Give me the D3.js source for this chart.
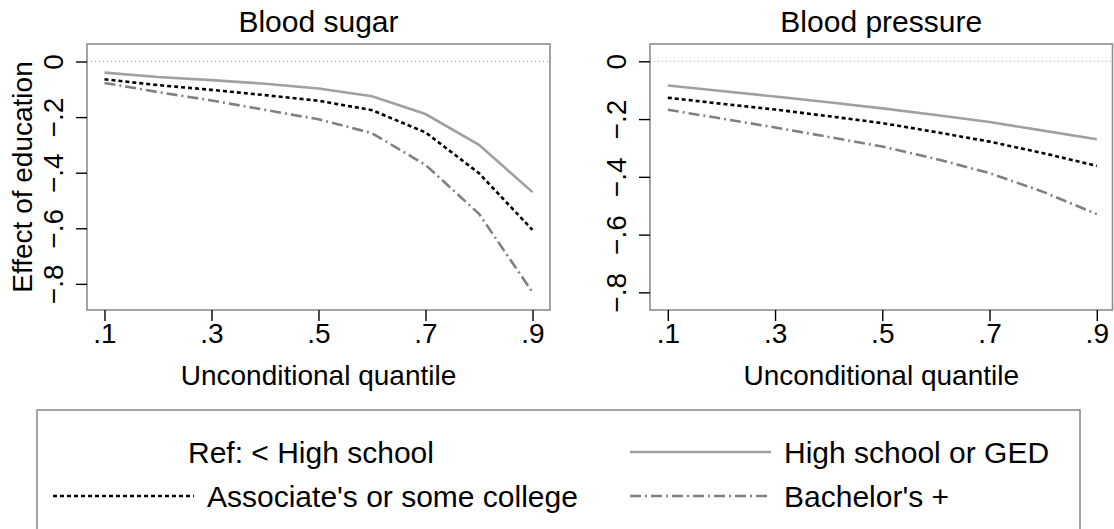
<!DOCTYPE html>
<html>
<head>
<meta charset="utf-8">
<script src="https://cdn.jsdelivr.net/npm/d3@7"></script>
<style>
  html, body { margin: 0; padding: 0; background: #fff; }
  svg { display: block; font-family: "Liberation Sans", Arial, Helvetica, sans-serif; }
</style>
</head>
<body>
<svg id="chart" width="1114" height="529"></svg>
<script>
// Unconditional quantiles at which the effects were estimated
const quantiles = [0.1, 0.2, 0.3, 0.4, 0.5, 0.6, 0.7, 0.8, 0.9];
const xTicks = [0.1, 0.3, 0.5, 0.7, 0.9];
const yTicks = [0, -0.2, -0.4, -0.6, -0.8];

// Blood sugar: effect of education relative to < High school
const sugarHighSchool = [-0.040, -0.056, -0.067, -0.080, -0.097, -0.125, -0.189, -0.300, -0.470];
const sugarAssociate  = [-0.064, -0.085, -0.102, -0.121, -0.141, -0.175, -0.255, -0.402, -0.606];
const sugarBachelor   = [-0.077, -0.110, -0.140, -0.174, -0.208, -0.258, -0.372, -0.548, -0.830];

// Blood pressure: effect of education relative to < High school
const bpHighSchool = [-0.084, -0.103, -0.122, -0.142, -0.163, -0.186, -0.210, -0.240, -0.270];
const bpAssociate  = [-0.126, -0.147, -0.167, -0.190, -0.214, -0.245, -0.278, -0.318, -0.362];
const bpBachelor   = [-0.168, -0.198, -0.229, -0.262, -0.295, -0.338, -0.387, -0.452, -0.529];

const seriesNames = ["High school or GED", "Associate's or some college", "Bachelor's +"];
const refLabel = "Ref: < High school";
const panelTitles = ["Blood sugar", "Blood pressure"];
const xTitle = "Unconditional quantile";
const yTitle = "Effect of education";

const styles = [
  { stroke: "#a0a0a0", dash: null },
  { stroke: "#000000", dash: "4,3" },
  { stroke: "#808080", dash: "11,4,2,4" }
];

const svg = d3.select("#chart");
const TITLE_FONT = 30, AXIS_TITLE_FONT = 28, TICK_FONT = 28, LEGEND_FONT = 30;

const panels = [
  { title: panelTitles[0], series: [sugarHighSchool, sugarAssociate, sugarBachelor],
    box: { x0: 87, x1: 550, y0: 44, y1: 310 }, xDom: [0.0673, 0.9327], yDom: [0.063, -0.894], showYTitle: true },
  { title: panelTitles[1], series: [bpHighSchool, bpAssociate, bpBachelor],
    box: { x0: 650, x1: 1112.5, y0: 44, y1: 310 }, xDom: [0.0668, 0.9293], yDom: [0.0599, -0.861], showYTitle: false }
];

const fmt = v => v === 0 ? "0" : d3.format(".1f")(v).replace("0.", ".");

panels.forEach(p => {
  const b = p.box;
  const x = d3.scaleLinear().domain(p.xDom).range([b.x0, b.x1]);
  const y = d3.scaleLinear().domain(p.yDom).range([b.y0, b.y1]);
  const g = svg.append("g");

  // zero reference line
  g.append("line")
    .attr("x1", b.x0).attr("x2", b.x1)
    .attr("y1", y(0)).attr("y2", y(0))
    .attr("stroke", "#a8a8a8").attr("stroke-width", 1)
    .attr("stroke-dasharray", "1,3");

  // series lines
  const line = d3.line().x((d, i) => x(quantiles[i])).y(d => y(d));
  p.series.forEach((s, i) => {
    g.append("path")
      .datum(s)
      .attr("d", line)
      .attr("fill", "none")
      .attr("stroke", styles[i].stroke)
      .attr("stroke-width", 2.6)
      .attr("stroke-dasharray", styles[i].dash);
  });

  // plot region frame
  g.append("rect")
    .attr("x", b.x0).attr("y", b.y0)
    .attr("width", b.x1 - b.x0).attr("height", b.y1 - b.y0)
    .attr("fill", "none").attr("stroke", "#8c8c8c").attr("stroke-width", 1.6);

  // x axis
  const xAxis = d3.axisBottom(x).tickValues(xTicks).tickSize(11).tickPadding(2).tickFormat(fmt);
  const xa = g.append("g").attr("transform", `translate(0,${b.y1})`).call(xAxis);
  xa.select(".domain").remove();
  xa.selectAll(".tick line").attr("stroke", "#000").attr("stroke-width", 1.4);
  xa.selectAll(".tick text").attr("font-size", TICK_FONT).attr("fill", "#000")
    .attr("font-family", "Liberation Sans, Arial, sans-serif");

  // y axis with labels turned to read upwards
  const yAxis = d3.axisLeft(y).tickValues(yTicks).tickSize(11).tickFormat(fmt);
  const ya = g.append("g").attr("transform", `translate(${b.x0},0)`).call(yAxis);
  ya.select(".domain").remove();
  ya.selectAll(".tick line").attr("stroke", "#000").attr("stroke-width", 1.4);
  ya.selectAll(".tick text")
    .attr("font-size", TICK_FONT).attr("fill", "#000")
    .attr("font-family", "Liberation Sans, Arial, sans-serif")
    .attr("x", null).attr("dy", null)
    .attr("text-anchor", "middle")
    .attr("transform", "translate(-24,0) rotate(-90)");

  // panel title
  g.append("text")
    .attr("x", (b.x0 + b.x1) / 2).attr("y", 32)
    .attr("text-anchor", "middle").attr("font-size", TITLE_FONT)
    .text(p.title);

  // x axis title
  g.append("text")
    .attr("x", (b.x0 + b.x1) / 2).attr("y", 385)
    .attr("text-anchor", "middle").attr("font-size", AXIS_TITLE_FONT)
    .text(xTitle);

  if (p.showYTitle) {
    g.append("text")
      .attr("transform", `translate(32,${(b.y0 + b.y1) / 2}) rotate(-90)`)
      .attr("text-anchor", "middle").attr("font-size", AXIS_TITLE_FONT)
      .text(yTitle);
  }
});

// legend
const legend = svg.append("g");
legend.append("rect")
  .attr("x", 37).attr("y", 410).attr("width", 1043).attr("height", 140)
  .attr("fill", "none").attr("stroke", "#8c8c8c").attr("stroke-width", 1.6);

const legendItems = [
  { label: refLabel, style: null, col: 0, row: 0, tx: 188 },
  { label: seriesNames[0], style: styles[0], col: 1, row: 0 },
  { label: seriesNames[1], style: styles[1], col: 0, row: 1 },
  { label: seriesNames[2], style: styles[2], col: 1, row: 1 }
];
const colKey = [[53, 194], [630, 771]];
const rowY = [452, 496];

legendItems.forEach(it => {
  const [k0, k1] = colKey[it.col];
  const cy = rowY[it.row];
  if (it.style) {
    legend.append("line")
      .attr("x1", k0).attr("x2", k1).attr("y1", cy).attr("y2", cy)
      .attr("stroke", it.style.stroke).attr("stroke-width", 2.6)
      .attr("stroke-dasharray", it.style.dash);
  }
  legend.append("text")
    .attr("x", it.tx != null ? it.tx : k1 + 13).attr("y", cy + 10.5)
    .attr("font-size", LEGEND_FONT)
    .text(it.label);
});
</script>
</body>
</html>
